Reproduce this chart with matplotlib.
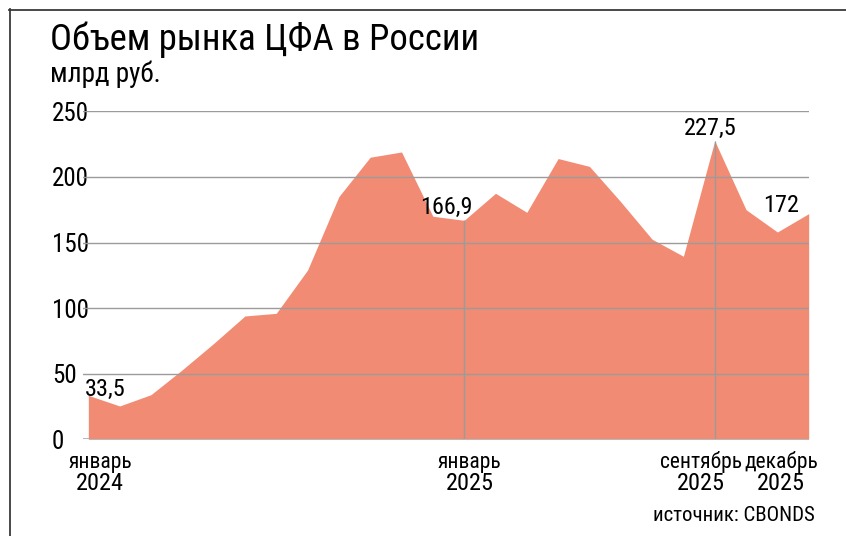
import os
import matplotlib
matplotlib.use("Agg")
import matplotlib.pyplot as plt
from matplotlib import font_manager
from matplotlib.font_manager import FontProperties
from matplotlib.lines import Line2D

# ---- data ----
months = list(range(24))  # Jan 2024 .. Dec 2025
values = [33.5, 25.4, 34.0, 53.0, 73.0, 94.0, 96.0, 129.0, 185.0, 215.0, 219.0, 170.0,
          166.9, 187.5, 173.0, 214.0, 208.0, 181.0, 152.5, 139.5, 227.5, 175.0, 158.0, 172.0]
y_ticks = [0, 50, 100, 150, 200, 250]
x_label_idx = [0, 12, 20, 23]
x_label_month = ["январь", "январь", "сентябрь", "декабрь"]
x_label_year = ["2024", "2025", "2025", "2025"]
annot_idx = [0, 12, 20, 23]
annot_text = ["33,5", "166,9", "227,5", "172"]
vline_idx = [12, 20]
title = "Объем рынка ЦФА в России"
subtitle = "млрд руб."
source = "источник: CBONDS"

# ---- font choice: prefer a narrow sans with Cyrillic ----
files = {}
for f in font_manager.fontManager.ttflist:
    files.setdefault(os.path.basename(f.fname).lower(), f.fname)


def find(cands):
    for p in cands:
        if p in files:
            return files[p]
    return None


REG = find(["notosans-extracondensed.ttf", "robotocondensed-regular.ttf",
            "notosans-condensed.ttf", "liberationsansnarrow-regular.ttf",
            "dejavusanscondensed.ttf"])


def fp(size):
    if REG:
        return FontProperties(fname=REG, size=size)
    return FontProperties(family="DejaVu Sans", stretch="condensed", size=size)


FILL = "#F28B73"
GRID = "#9b9b9b"
W, H = 846, 536
fig = plt.figure(figsize=(W / 100, H / 100), dpi=100)
ax = fig.add_axes([83 / W, (H - 439.3) / H, (809 - 83) / W, (439.3 - 111.3) / H])

ax.fill_between(months, values, 0, color=FILL, lw=0, zorder=1)
ax.set_xlim(-0.17, 23.01)
ax.set_ylim(0, 250)

for yv in y_ticks:
    ax.axhline(yv, color=GRID, lw=1.0, zorder=3)
ax.axhline(0, color="#a8a8a8", lw=1.8, zorder=3)
ax.vlines([months[i] for i in vline_idx], 0, [values[i] for i in vline_idx],
          color=GRID, lw=1.0, zorder=3)

for s in ax.spines.values():
    s.set_visible(False)
ax.set_xticks([])
ax.set_yticks(y_ticks)
ax.set_yticklabels([str(v) for v in y_ticks], ha='left', color='black')
for lbl in ax.get_yticklabels():
    lbl.set_fontproperties(fp(18))
ax.tick_params(axis='y', length=0, pad=22.3)

# x labels (month / year)
x_off_pt = [8.4, 4.1, -10.0, -20.0]
for i, m, yr, off in zip(x_label_idx, x_label_month, x_label_year, x_off_pt):
    ax.annotate(m, (months[i], 0), xytext=(off, -20.7), textcoords='offset points',
                ha='center', va='baseline', fontproperties=fp(15.5), annotation_clip=False)
    ax.annotate(yr, (months[i], 0), xytext=(off, -36.5), textcoords='offset points',
                ha='center', va='baseline', fontproperties=fp(17.5), annotation_clip=False)

# value annotations
ann_off = [(-2.4, -0.5), (6.3, 4.5), (-3.0, 4.5), (-7.0, 1.0)]
ann_ha = ['left', 'right', 'center', 'right']
for i, t, off, ha in zip(annot_idx, annot_text, ann_off, ann_ha):
    ax.annotate(t, (months[i], values[i]), xytext=off, textcoords='offset points',
                ha=ha, va='baseline', fontproperties=fp(17.5), annotation_clip=False)

# titles and source
fig.text(50 / W, 1 - 50 / H, title, fontproperties=fp(26.5), ha='left', va='baseline')
fig.text(50 / W, 1 - 82 / H, subtitle, fontproperties=fp(19.5), ha='left', va='baseline')
fig.text(815 / W, 1 - 521 / H, source, fontproperties=fp(15), ha='right', va='baseline')

# frame (top and left)
fig.add_artist(Line2D([9 / W, 1], [1 - 9.5 / H, 1 - 9.5 / H], transform=fig.transFigure,
                      color="#3a3a3a", lw=1.3))
fig.add_artist(Line2D([9.5 / W, 9.5 / W], [0, 1 - 9 / H], transform=fig.transFigure,
                      color="#3a3a3a", lw=1.3))

fig.savefig("out.png", dpi=100)
